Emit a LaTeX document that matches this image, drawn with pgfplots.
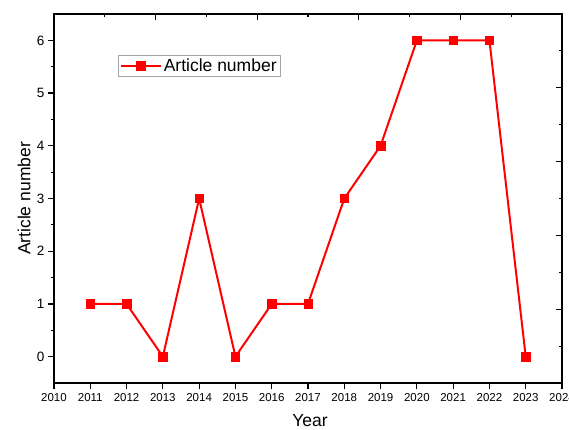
\documentclass[border=0pt]{standalone}
\usepackage{pgfplots}
\pgfplotsset{compat=1.18}
\usepackage{fontspec}
\setmainfont{Liberation Sans}
\begin{document}
\begin{tikzpicture}
\begin{axis}[
  name=main,
  scale only axis,
  width=508bp, height=369bp,
  xmin=2010, xmax=2024,
  ymin=-0.5, ymax=6.5,
  xtick={2010,2011,...,2024},
  ytick={0,1,...,6},
  minor x tick num=1,
  minor y tick num=1,
  xtick pos=left, ytick pos=left,
  tick align=outside,
  major tick length=6bp, minor tick length=3.5bp,
  every tick/.style={black, line width=1.2pt},
  axis line style={line width=1.4pt},
  /pgf/number format/assume math mode=true,
  /pgf/number format/1000 sep={},
  xticklabel style={font=\fontsize{11.5bp}{13bp}\selectfont, yshift=-1bp},
  yticklabel style={font=\fontsize{13.5bp}{16bp}\selectfont},
  xlabel={Year},
  ylabel={Article number},
  xlabel style={font=\fontsize{17.5bp}{20bp}\selectfont, at={(axis description cs:0.504,-0.103)}, anchor=center},
  ylabel style={font=\fontsize{17.5bp}{20bp}\selectfont, at={(axis description cs:-0.059,0.5)}, anchor=center},
  legend style={at={(axis description cs:0.126,0.889)}, anchor=north west,
    draw=gray!70, line width=0.6pt, font=\fontsize{17.5bp}{20bp}\selectfont,
    inner sep=1.5bp, row sep=0pt},
  legend cell align=left,
  legend image code/.code={
    \draw[#1, mark=none] (0bp,0bp) -- (40bp,0bp);
    \draw[#1, only marks] plot coordinates {(20bp,0bp)};
  },
]
\addplot[color=red, line width=2pt, mark=square*, mark size=4.2bp, mark options={solid, fill=red, line width=0.5pt}]
coordinates {
(2011,1) (2012,1) (2013,0) (2014,3) (2015,0) (2016,1) (2017,1)
(2018,3) (2019,4) (2020,6) (2021,6) (2022,6) (2023,0)
};
\addlegendentry{Article number}
\end{axis}
\begin{axis}[
  scale only axis,
  width=508bp, height=369bp,
  xmin=0, xmax=10, ymin=0, ymax=10,
  axis line style={draw=none},
  xtick={2,4,6,8},
  minor xtick={1,3,5,7,9},
  ytick={2,4,6,8},
  minor ytick={1,3,5,7,9},
  xtick pos=right, ytick pos=right,
  tick align=inside,
  major tick length=6bp, minor tick length=3.5bp,
  every tick/.style={black, line width=1.2pt},
  xticklabels={}, yticklabels={},
]
\end{axis}
\pgfresetboundingbox
\path[use as bounding box] ([xshift=-54bp,yshift=-47bp]main.south west) rectangle ([xshift=7bp,yshift=14bp]main.north east);
\end{tikzpicture}
\end{document}
